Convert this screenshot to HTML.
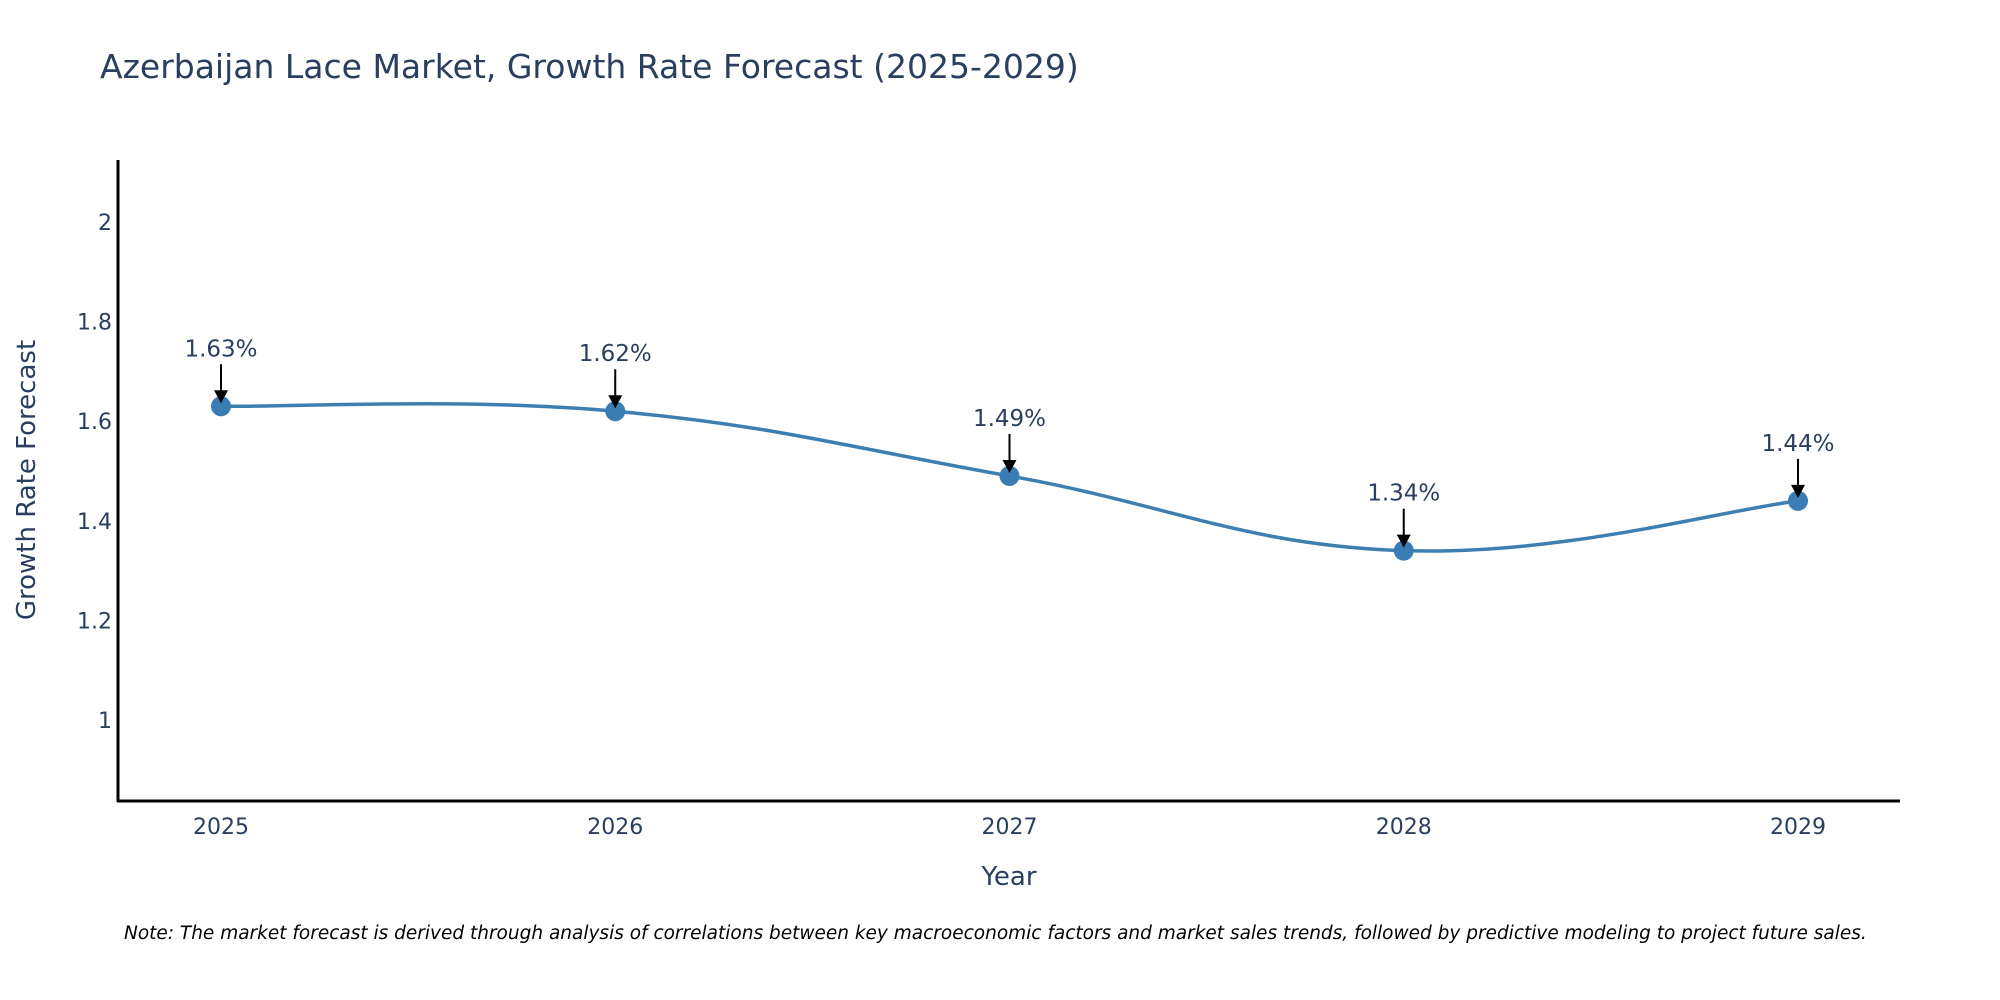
<!DOCTYPE html>
<html><head><meta charset="utf-8"><style>
html,body{margin:0;padding:0;background:#fff;}
svg{display:block;font-family:"DejaVu Sans","Liberation Sans",sans-serif;}
</style></head><body>
<svg id="chart" width="2000" height="1000">
<text x="100" y="78" font-size="33" fill="#2a3f5f">Azerbaijan Lace Market, Growth Rate Forecast (2025-2029)</text>
<g id="yticks"></g>
<g id="xticks"></g>
<line x1="118" y1="160" x2="118" y2="802" stroke="#000" stroke-width="3"/>
<line x1="117" y1="801" x2="1900" y2="801" stroke="#000" stroke-width="3"/>
<text transform="translate(35,480) rotate(-90)" text-anchor="middle" font-size="26" fill="#2a3f5f">Growth Rate Forecast</text>
<text x="1009" y="885" text-anchor="middle" font-size="26" fill="#2a3f5f">Year</text>
<g id="series"></g>
<g id="annots"></g>
<text x="124" y="939" font-size="18.5" font-style="italic" fill="#000">Note: The market forecast is derived through analysis of correlations between key macroeconomic factors and market sales trends, followed by predictive modeling to project future sales.</text>
</svg>
<script>
const years = [2025, 2026, 2027, 2028, 2029];
const growth = [1.63, 1.62, 1.49, 1.34, 1.44];
const labels = ["1.63%", "1.62%", "1.49%", "1.34%", "1.44%"];
const yTickVals = [1, 1.2, 1.4, 1.6, 1.8, 2];
const yTickLabels = ["1", "1.2", "1.4", "1.6", "1.8", "2"];

const NS = "http://www.w3.org/2000/svg";
function xS(v){ return 221 + (v - 2025) * 394.25; }
function yS(v){ return 720 - (v - 1) * 498; }
function mk(tag, attrs, parent){
  const e = document.createElementNS(NS, tag);
  for (const k in attrs) e.setAttribute(k, attrs[k]);
  parent.appendChild(e); return e;
}
const yt = document.getElementById('yticks');
yTickVals.forEach((v,i)=>{
  const t = mk('text', {x:112, y:yS(v)+8, 'text-anchor':'end', 'font-size':22, fill:'#2a3f5f'}, yt);
  
  
  t.textContent = yTickLabels[i];
});
const xt = document.getElementById('xticks');
years.forEach(v=>{
  const t = mk('text', {x:xS(v), y:834, 'text-anchor':'middle', 'font-size':22, fill:'#2a3f5f'}, xt);
  
  
  t.textContent = String(v);
});
const pts = years.map((y,i)=>[xS(y), yS(growth[i])]);
let d = `M${pts[0][0]},${pts[0][1]}`;
const tension = 0.6;
for (let i=0;i<pts.length-1;i++){
  const p0 = pts[Math.max(0,i-1)], p1 = pts[i], p2 = pts[i+1], p3 = pts[Math.min(pts.length-1,i+2)];
  const c1 = [p1[0] + (p2[0]-p0[0])*tension/3, p1[1] + (p2[1]-p0[1])*tension/3];
  const c2 = [p2[0] - (p3[0]-p1[0])*tension/3, p2[1] - (p3[1]-p1[1])*tension/3];
  d += ` C${c1[0]},${c1[1]} ${c2[0]},${c2[1]} ${p2[0]},${p2[1]}`;
}
const s = document.getElementById('series');
const line = mk('path', {d:d, fill:'none', stroke:'#3d7fb0', 'stroke-width':3.5}, s);


pts.forEach(p=>{
  const c = mk('circle', {cx:p[0], cy:p[1], r:10, fill:'#3a7db5'}, s);
  
  
});
const a = document.getElementById('annots');
pts.forEach((p,i)=>{
  const l = mk('line', {x1:p[0], y1:p[1]-42, x2:p[0], y2:p[1]-14, stroke:'#000', 'stroke-width':2}, a);
  
  
  const h = mk('polygon', {points:`${p[0]-7},${p[1]-16} ${p[0]+7},${p[1]-16} ${p[0]},${p[1]-3}`, fill:'#000'}, a);
  
  
  const t = mk('text', {x:p[0], y:p[1]-50, 'text-anchor':'middle', 'font-size':23, fill:'#2a3f5f'}, a);
  
  
  t.textContent = labels[i];
});
</script>
</body></html>
